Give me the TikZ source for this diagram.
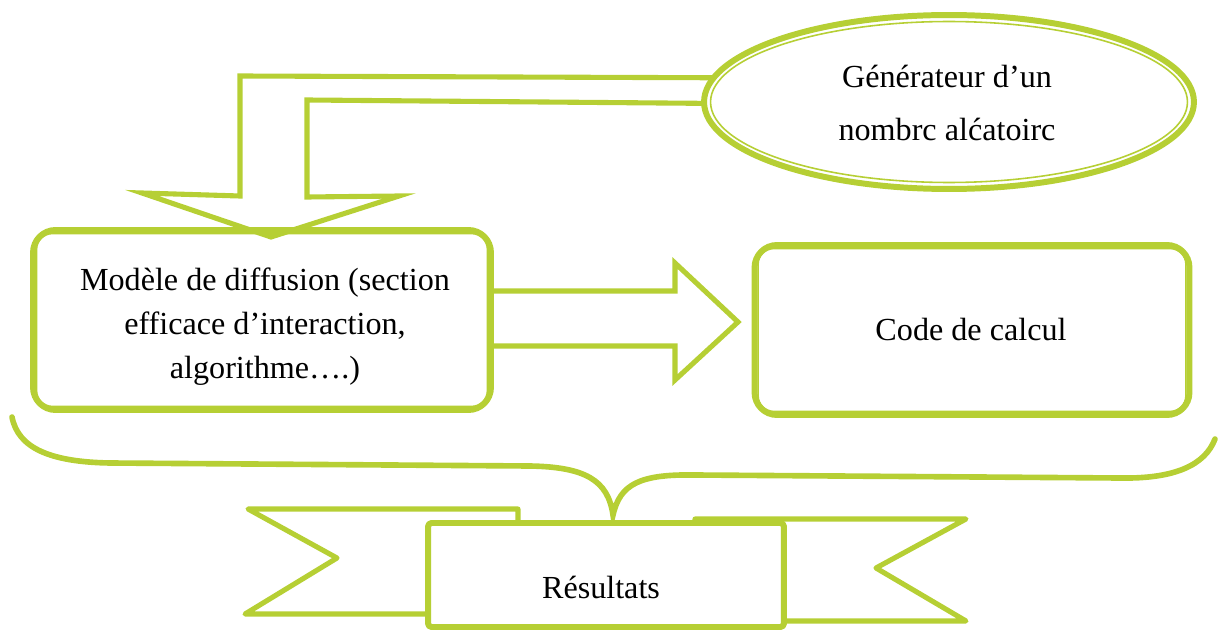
\documentclass[tikz,border=0pt]{standalone}
\usepackage{fontspec}
\setmainfont{Liberation Serif}
\usetikzlibrary{shapes.geometric,calc}
\definecolor{lime}{RGB}{182,207,52}
\tikzset{
  thickline/.style={draw=lime, line width=3.4pt, line join=round},
  thinline/.style={draw=lime, line width=0.9pt},
  arrowshape/.style={draw=lime, line width=2.9pt, line join=miter},
  boxnode/.style={thickline, fill=white, rounded corners=0.45cm, inner sep=0pt},
  txt/.style={font=\fontsize{18.3}{25}\selectfont, align=center},
  bracestyle/.style={draw=lime, line width=3.2pt, line cap=round},
}
\begin{document}
\begin{tikzpicture}[x=0.02cm, y=-0.02cm]
\useasboundingbox (0,0) rectangle (1218,635);

% Modele box
\node[boxnode, minimum width=9.16cm, minimum height=3.6cm] (model) at (262,320) {};
\draw[thinline, rounded corners=0.32cm] ($(model.north west)+(6.5,6.5)$) rectangle ($(model.south east)+(-6.5,-6.5)$);
\node[txt] (modeltxt) at (265,327) {Modèle de diffusion (section\\efficace d’interaction,\\algorithme….)};

% bent block arrow from generator to model
\coordinate (bA) at (780,78);
\coordinate (bB) at (780,104);
\draw[arrowshape] (bA) -- (240,76) -- (240,196) -- (142,193) -- (271,237) -- (399,196) -- (307,197) -- (307,100) -- (bB);

% Generator ellipse
\node[ellipse, thickline, fill=white, minimum width=9.8cm, minimum height=3.48cm, inner sep=0pt] (gen) at (949,102) {};
\draw[thinline] (gen.center) ellipse [x radius=4.77cm, y radius=1.61cm];
\node[txt, font=\fontsize{18.3}{30.6}\selectfont] (gentxt) at (947,103) {Générateur d’un\\nombrc alćatoirc};

% Code box
\node[boxnode, minimum width=8.7cm, minimum height=3.4cm] (code) at (972,330) {};
\draw[thinline, rounded corners=0.32cm] ($(code.north west)+(6.5,6.5)$) rectangle ($(code.south east)+(-6.5,-6.5)$);
\node[txt] (codetxt) at (971,330) {Code de calcul};

% horizontal block arrow
\draw[arrowshape] (model.east |- 0,291) -- (675,291) -- (675,263) -- (738,322) -- (675,380) -- (675,346) -- (model.east |- 0,346);

% brace
\coordinate (brL) at (12,417);
\coordinate (brT) at (613,515);
\coordinate (brR) at (1215,439);
\draw[bracestyle] (brL) .. controls (18,448) and (50,462) .. (110,463)
  -- (530,466) .. controls (585,467) and (608,480) .. (brT)
  .. controls (620,484) and (640,474) .. (695,475)
  -- (1120,478) .. controls (1175,479) and (1205,465) .. (brR);

% ribbon wings
\draw[arrowshape, line join=round] (518,523) -- (518,509) -- (248,509) -- (337,558) -- (245,614) -- (430,614);
\draw[arrowshape, line join=round] (695,526) -- (695,519) -- (966,519) -- (876,568) -- (966,621) -- (782,621);

% Resultats box
\node[thickline, fill=white, rounded corners=2pt, minimum width=7.12cm, minimum height=2.08cm, inner sep=0pt] (res) at (606,575) {};
\node[txt] (restxt) at (601,587) {Résultats};
\end{tikzpicture}
\end{document}
